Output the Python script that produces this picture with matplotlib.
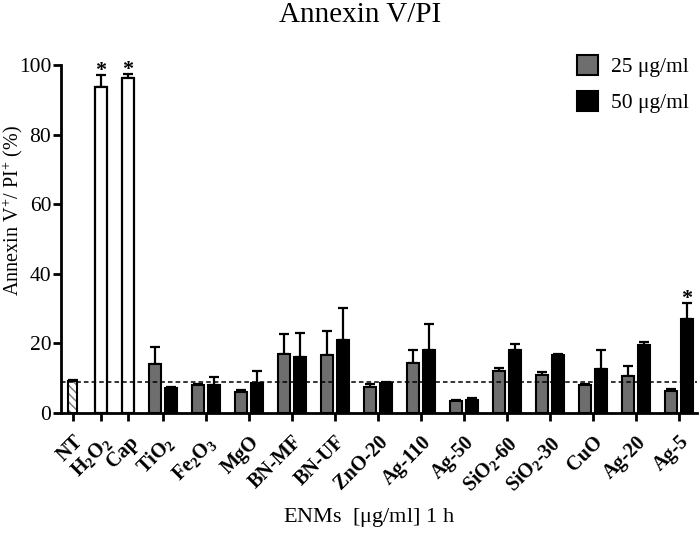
import numpy as np
import matplotlib.pyplot as plt
from matplotlib.patches import Patch

plt.rcParams['font.family'] = ['Liberation Serif', 'DejaVu Serif']
plt.rcParams['mathtext.fontset'] = 'custom'
plt.rcParams['mathtext.rm'] = 'Liberation Serif'
plt.rcParams['mathtext.it'] = 'Liberation Serif:italic'
plt.rcParams['mathtext.bf'] = 'Liberation Serif:bold'

# controls (single bars)
ctrl_labels = ['NT', r'H$_\mathbf{2}$O$_\mathbf{2}$', 'Cap']
ctrl_vals = [9.0, 93.6, 96.2]
ctrl_err = [0.3, 3.4, 1.2]

# ENMs, two doses
enm_labels = [r'TiO$_\mathbf{2}$', r'Fe$_\mathbf{2}$O$_\mathbf{3}$', 'MgO', 'BN-MF', 'BN-UF',
              'ZnO-20', 'Ag-110', 'Ag-50', r'SiO$_\mathbf{2}$-60', r'SiO$_\mathbf{2}$-30',
              'CuO', 'Ag-20', 'Ag-5']
vals_25 = [14.0, 7.8, 5.9, 16.8, 16.6, 7.3, 14.2, 3.3, 11.9, 10.7, 7.9, 10.4, 6.1]
err_25 = [4.8, 0.4, 0.6, 5.8, 7.0, 1.0, 3.8, 0.3, 1.0, 1.1, 0.3, 2.9, 0.8]
vals_50 = [7.1, 8.0, 8.6, 16.0, 21.0, 8.4, 18.0, 3.7, 17.9, 16.6, 12.6, 19.3, 27.0]
err_50 = [0.2, 2.2, 3.3, 6.8, 9.0, 0.3, 7.4, 0.5, 1.8, 0.2, 5.4, 0.9, 4.4]
nt_level = 8.8

fig = plt.figure(figsize=(7, 5.33), dpi=100)
ax = fig.add_axes([0.087, 0.226, 0.909, 0.652])

# x positions (one unit = one pair group)
ctrl_x = np.array([-2.09, -1.44, -0.81])
enm_x = np.arange(len(enm_labels))
off = 0.186
w = 0.28
ekw = dict(elinewidth=1.6, capsize=3.5, capthick=1.6, ecolor='black')

ax.bar(ctrl_x[0], ctrl_vals[0], width=0.21, color='white', edgecolor='#777777',
       linewidth=0, hatch='\\\\\\\\', zorder=2)
ax.bar(ctrl_x[0], ctrl_vals[0], width=0.21, color='none', edgecolor='black',
       linewidth=1.5, zorder=2)
ax.bar(ctrl_x[1:], ctrl_vals[1:], width=0.27, color='white', edgecolor='black',
       linewidth=1.6, zorder=2)
ax.errorbar(ctrl_x, ctrl_vals, yerr=[np.zeros(3), ctrl_err], fmt='none', zorder=1, **ekw)

ax.bar(enm_x - off, vals_25, width=w, color='#6e6e6e', edgecolor='black', linewidth=1.5, zorder=2)
ax.bar(enm_x + off, vals_50, width=w, color='black', edgecolor='black', linewidth=1.5, zorder=2)
ax.errorbar(enm_x - off, vals_25, yerr=[np.zeros(len(vals_25)), err_25], fmt='none', zorder=1, **ekw)
ax.errorbar(enm_x + off, vals_50, yerr=[np.zeros(len(vals_50)), err_50], fmt='none', zorder=1, **ekw)

ax.axhline(nt_level, color='black', linestyle=(0, (3, 2)), linewidth=1.1, zorder=3)

# significance stars
for x, v, e in [(ctrl_x[1], ctrl_vals[1], ctrl_err[1]), (ctrl_x[2], ctrl_vals[2], ctrl_err[2]),
                (enm_x[-1] + off, vals_50[-1], err_50[-1])]:
    ax.text(x, v + e - 1.6, '*', ha='center', va='bottom', fontsize=16,
            fontweight='bold', clip_on=False)

ax.set_xlim(-2.37, 12.42)
ax.set_ylim(0, 100)
ax.set_yticks([0, 20, 40, 60, 80, 100])
ax.set_xticks(list(ctrl_x) + list(enm_x))
ax.set_xticklabels(ctrl_labels + enm_labels, rotation=45, ha='right',
                   rotation_mode='anchor', fontsize=14.5, fontweight='bold')
ax.tick_params(axis='y', labelsize=15.5, width=2, length=6, pad=1)
ax.tick_params(axis='x', width=2, length=6, pad=8)
for s in ['top', 'right']:
    ax.spines[s].set_visible(False)
for s in ['left', 'bottom']:
    ax.spines[s].set_linewidth(2)

ax.set_ylabel(r'Annexin V$^{+}$/ PI$^{+}$ (%)', fontsize=14.5)
ax.yaxis.set_label_coords(-0.056, 0.58)
fig.text(0.514, 1 - 22 / 533, 'Annexin V/PI', ha='center', va='baseline', fontsize=21)
fig.text(0.527, 1 - 522 / 533, r'ENMs  [$\mathrm{\mu}$g/ml] 1 h', ha='center',
         va='baseline', fontsize=16)

handles = [Patch(facecolor='#6e6e6e', edgecolor='black', linewidth=1.5),
           Patch(facecolor='black', edgecolor='black', linewidth=1.5)]
ax.legend(handles, ['25 μg/ml', '50 μg/ml'], loc='upper right', frameon=False,
          fontsize=15.5, handlelength=0.95, handleheight=1.05, handletextpad=0.6,
          bbox_to_anchor=(1.017, 1.085), labelspacing=0.62)

fig.savefig('out.png', dpi=100)
